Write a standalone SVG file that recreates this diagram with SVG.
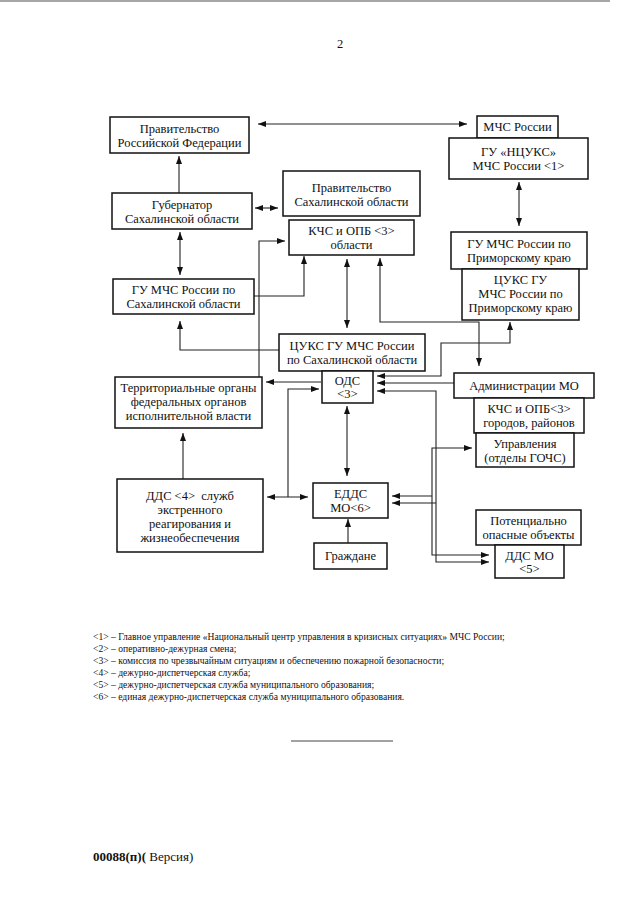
<svg xmlns="http://www.w3.org/2000/svg" width="633" height="905" viewBox="0 0 633 905">
<style>
.b{fill:#fff;stroke:#111;stroke-width:1.5}
.t{font-family:"Liberation Serif","Times New Roman",serif;font-size:12.5px;fill:#111;text-anchor:middle}
.c{fill:none;stroke:#222;stroke-width:1.1}
.fn{font-family:"Liberation Serif","Times New Roman",serif;font-size:9.6px;fill:#111}
</style>
<defs>
<marker id="a" markerWidth="8" markerHeight="6" refX="8" refY="3" orient="auto-start-reverse" markerUnits="userSpaceOnUse"><path d="M0,0 L8,3 L0,6 z" fill="#111"/></marker>
</defs>
<rect width="633" height="905" fill="#fff"/>
<line x1="0" y1="1" x2="610" y2="1" stroke="#888" stroke-width="1.5"/>
<text x="340" y="48" class="t" font-size="13">2</text>

<g id="connectors">
<path class="c" d="M258,124 H467" marker-start="url(#a)" marker-end="url(#a)"/>
<path class="c" d="M179,193 V156" marker-end="url(#a)"/>
<path class="c" d="M255,208 H278" marker-start="url(#a)" marker-end="url(#a)"/>
<path class="c" d="M180,232 V275" marker-start="url(#a)" marker-end="url(#a)"/>
<path class="c" d="M254,296 H304 V256" marker-end="url(#a)"/>
<path class="c" d="M259,377 V241 H285" marker-end="url(#a)"/>
<path class="c" d="M279,350 H180 V321" marker-end="url(#a)"/>
<path class="c" d="M347,259 V328" marker-start="url(#a)" marker-end="url(#a)"/>
<path class="c" d="M380,258 V322 H479 V366" marker-start="url(#a)" marker-end="url(#a)"/>
<path class="c" d="M519,182 V226" marker-start="url(#a)" marker-end="url(#a)"/>
<path class="c" d="M510,322 V343 H441 V376 H377" marker-start="url(#a)" marker-end="url(#a)"/>
<path class="c" d="M454,383 H377" marker-end="url(#a)"/>
<path class="c" d="M377,391 H436 V562 H489" marker-start="url(#a)" marker-end="url(#a)"/>
<path class="c" d="M436,503 H392" marker-end="url(#a)"/>
<path class="c" d="M472,448 H432 V555 H489" marker-start="url(#a)" marker-end="url(#a)"/>
<path class="c" d="M432,496 H392" marker-end="url(#a)"/>
<path class="c" d="M347,406 V476" marker-start="url(#a)" marker-end="url(#a)"/>
<path class="c" d="M348,543 V519" marker-end="url(#a)"/>
<path class="c" d="M267,497 H308" marker-start="url(#a)" marker-end="url(#a)"/>
<path class="c" d="M288,497 V389 H319" marker-end="url(#a)"/>
<path class="c" d="M321,382 H266" marker-end="url(#a)"/>
<path class="c" d="M183,479 V433" marker-end="url(#a)"/>
</g>

<g id="gov_rf"><rect class="b" x="110" y="117" width="139" height="36"/>
<text class="t" x="179.5" y="133">Правительство</text><text class="t" x="179.5" y="147">Российской Федерации</text></g>

<g id="gubernator"><rect class="b" x="112" y="193" width="140" height="36"/>
<text class="t" x="182" y="209">Губернатор</text><text class="t" x="182" y="223">Сахалинской области</text></g>

<g id="gov_sakh"><rect class="b" x="283" y="171" width="137" height="45"/>
<text class="t" x="351.5" y="192">Правительство</text><text class="t" x="351.5" y="206">Сахалинской области</text></g>

<g id="kchs_obl"><rect class="b" x="289" y="220" width="125" height="35"/>
<text class="t" x="351.5" y="235">КЧС и ОПБ &lt;3&gt;</text><text class="t" x="351.5" y="249">области</text></g>

<g id="mchs"><rect class="b" x="477" y="116" width="81" height="22"/>
<text class="t" x="517.5" y="131">МЧС России</text></g>

<g id="ncuks"><rect class="b" x="449" y="138" width="139" height="41"/>
<text class="t" x="518.5" y="156">ГУ «НЦУКС»</text><text class="t" x="518.5" y="170">МЧС России &lt;1&gt;</text></g>

<g id="gu_prim"><rect class="b" x="451" y="232" width="136" height="37"/>
<text class="t" x="519" y="248">ГУ МЧС России по</text><text class="t" x="519" y="262">Приморскому краю</text></g>

<g id="cuks_prim"><rect class="b" x="462" y="269" width="117" height="51"/>
<text class="t" x="520.5" y="284">ЦУКС ГУ</text><text class="t" x="520.5" y="298">МЧС России по</text><text class="t" x="520.5" y="312">Приморскому краю</text></g>

<g id="gu_sakh"><rect class="b" x="113" y="279" width="141" height="35"/>
<text class="t" x="183.5" y="294">ГУ МЧС России по</text><text class="t" x="183.5" y="308">Сахалинской области</text></g>

<g id="cuks_sakh"><rect class="b" x="279" y="334" width="146" height="37"/>
<text class="t" x="352" y="350">ЦУКС ГУ МЧС России</text><text class="t" x="352" y="364">по Сахалинской области</text></g>

<g id="ods"><rect class="b" x="322" y="371" width="51" height="32"/>
<text class="t" x="347.5" y="385">ОДС</text><text class="t" x="347.5" y="398">&lt;3&gt;</text></g>

<g id="adm"><rect class="b" x="454" y="373" width="140" height="25"/>
<text class="t" x="524" y="390" font-size="13.5">Администрации МО</text></g>

<g id="kchs_mo"><rect class="b" x="474" y="398" width="110" height="35"/>
<text class="t" x="529" y="413">КЧС и ОПБ&lt;3&gt;</text><text class="t" x="529" y="427">городов, районов</text></g>

<g id="upr"><rect class="b" x="476" y="433" width="98" height="34"/>
<text class="t" x="525" y="448">Управления</text><text class="t" x="525" y="462">(отделы ГОЧС)</text></g>

<g id="terr"><rect class="b" x="115" y="377" width="147" height="51"/>
<text class="t" x="188.5" y="392">Территориальные органы</text><text class="t" x="188.5" y="406">федеральных органов</text><text class="t" x="188.5" y="420">исполнительной власти</text></g>

<g id="dds4"><rect class="b" x="117" y="479" width="146" height="73"/>
<text class="t" x="190" y="500" xml:space="preserve">ДДС &lt;4&gt;  служб</text><text class="t" x="190" y="514">экстренного</text><text class="t" x="190" y="528">реагирования и</text><text class="t" x="190" y="542">жизнеобеспечения</text></g>

<g id="edds"><rect class="b" x="313" y="483" width="75" height="35"/>
<text class="t" x="350.5" y="498">ЕДДС</text><text class="t" x="350.5" y="512">МО&lt;6&gt;</text></g>

<g id="grazhdane"><rect class="b" x="314" y="543" width="73" height="26"/>
<text class="t" x="350.5" y="560">Граждане</text></g>

<g id="poo"><rect class="b" x="476" y="510" width="105" height="35"/>
<text class="t" x="528.5" y="525">Потенциально</text><text class="t" x="528.5" y="539">опасные объекты</text></g>

<g id="ddsmo"><rect class="b" x="495" y="545" width="69" height="33"/>
<text class="t" x="529.5" y="560">ДДС МО</text><text class="t" x="529.5" y="573">&lt;5&gt;</text></g>

<g id="footnotes">
<text class="fn" x="93" y="640">&lt;1&gt; – Главное управление «Национальный центр управления в кризисных ситуациях» МЧС России;</text>
<text class="fn" x="93" y="652">&lt;2&gt; – оперативно-дежурная смена;</text>
<text class="fn" x="93" y="664">&lt;3&gt; – комиссия по чрезвычайным ситуациям и обеспечению пожарной безопасности;</text>
<text class="fn" x="93" y="676">&lt;4&gt; – дежурно-диспетчерская служба;</text>
<text class="fn" x="93" y="688">&lt;5&gt; – дежурно-диспетчерская служба муниципального образования;</text>
<text class="fn" x="93" y="700">&lt;6&gt; – единая дежурно-диспетчерская служба муниципального образования.</text>
</g>
<line x1="291" y1="741" x2="393" y2="741" stroke="#444" stroke-width="1"/>
<text x="93" y="861" font-family="Liberation Serif,Times New Roman,serif" font-size="13" fill="#111"><tspan font-weight="bold">00088(п)(</tspan> Версия)</text>
</svg>
